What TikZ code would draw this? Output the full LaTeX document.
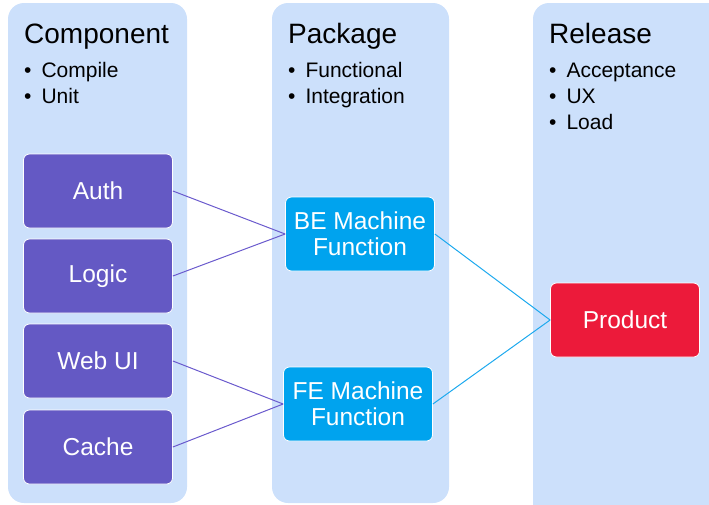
\documentclass[tikz,border=0pt]{standalone}
\usepackage{fontspec}
\setmainfont{Liberation Sans}
\definecolor{lane}{HTML}{CCE0FB}
\definecolor{comp}{HTML}{6459C4}
\definecolor{mach}{HTML}{00A3EE}
\definecolor{prod}{HTML}{EC1A3A}
\definecolor{compline}{HTML}{6A5ACD}
\definecolor{machline}{HTML}{1DA9EE}
\tikzstyle{lanebox}=[fill=lane, rounded corners=16pt]
\tikzstyle{head}=[anchor=base west, inner sep=0pt, font=\fontsize{28}{30}\selectfont]
\tikzstyle{item}=[anchor=base west, inner sep=0pt, font=\fontsize{21}{24}\selectfont]
\tikzstyle{block}=[draw=white, line width=0.8pt, rounded corners=6pt, minimum width=149pt,
  minimum height=74pt, text=white, align=center, font=\fontsize{24.5}{26}\selectfont]
\tikzstyle{compbox}=[block, fill=comp]
\tikzstyle{machbox}=[block, fill=mach]
\tikzstyle{prodbox}=[block, fill=prod]
\tikzstyle{link}=[line width=1pt]

\begin{document}
\begin{tikzpicture}[x=1pt, y=-1pt]
\useasboundingbox (0,0) rectangle (709,504);
\clip (0,0) rectangle (709,504);
% Lanes
    \fill[lanebox] (8,3) rectangle (187,503);
    \fill[lanebox] (272,3) rectangle (449,503);
    \fill[lanebox] (533,3) rectangle (725,520);
% Headings
    \node[head] (comphead) at (24,43) {Component};
    \node[item] (compa) at (24,77) {\textbullet\hspace{10pt}Compile};
    \node[item] (compb) at (24,103) {\textbullet\hspace{10pt}Unit};
    \node[head] (packhead) at (288,43) {Package};
    \node[item] (packa) at (288,77) {\textbullet\hspace{10pt}Functional};
    \node[item] (packb) at (288,103) {\textbullet\hspace{10pt}Integration};
    \node[head] (relhead) at (549,43) {Release};
    \node[item] (rela) at (549,77) {\textbullet\hspace{10pt}Acceptance};
    \node[item] (relb) at (549,103) {\textbullet\hspace{10pt}UX};
    \node[item] (relc) at (549,129) {\textbullet\hspace{10pt}Load};
% Boxes
    \node[compbox] (auth) at (98,191) {Auth};
    \node[compbox] (logic) at (98,276) {Logic};
    \node[compbox] (webui) at (98,361) {Web UI};
    \node[compbox] (cache) at (98,447) {Cache};
    \node[machbox] (bemach) at (360,234) {BE Machine\\Function};
    \node[machbox] (femach) at (358,404) {FE Machine\\Function};
    \node[prodbox] (product) at (625,320) {Product};
% Links
    \draw[link, compline] (auth.east) -- (bemach.west);
    \draw[link, compline] (logic.east) -- (bemach.west);
    \draw[link, compline] (webui.east) -- (femach.west);
    \draw[link, compline] (cache.east) -- (femach.west);
    \draw[link, machline] (bemach.east) -- (product.west);
    \draw[link, machline] (femach.east) -- (product.west);
\end{tikzpicture}
\end{document}
